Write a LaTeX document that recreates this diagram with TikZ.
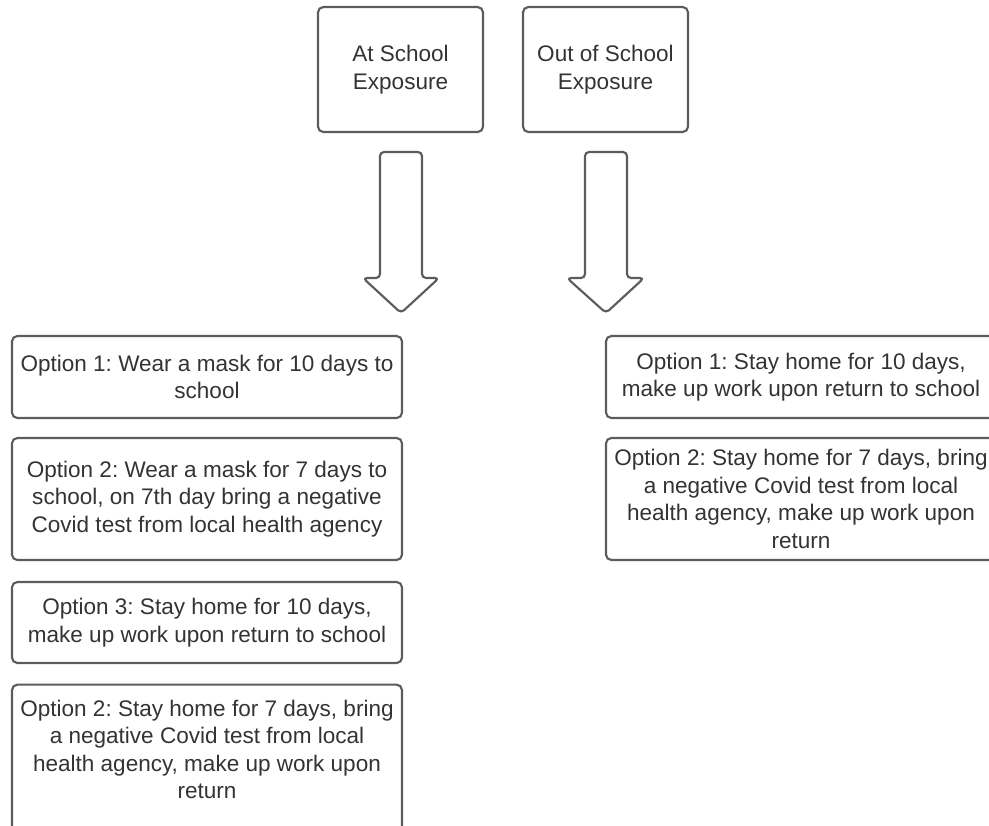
\documentclass[tikz,border=0pt]{standalone}
\usepackage{fontspec}
\setmainfont{Liberation Sans}
\frenchspacing
\definecolor{edgegray}{HTML}{5C5C5C}
\definecolor{ink}{HTML}{333333}
\begin{document}
\begin{tikzpicture}[x=0.75pt,y=-0.75pt,
  frame/.style={draw=edgegray, line width=1.6pt, rounded corners=4pt, inner sep=0pt},
  txt/.style={text=ink, align=center, font=\fontsize{16.9pt}{20.6pt}\selectfont\frenchspacing, inner sep=0pt},
  box/.style={frame, txt},
  blockarrow/.style={draw=edgegray, line width=1.6pt, rounded corners=3pt, line join=round}]
\useasboundingbox (0,0) rectangle (989,825);

% top boxes
\node[box, minimum width=123.75pt, minimum height=93.75pt] (at) at (400.5,69.5) {At School\\Exposure};
\node[box, minimum width=123.75pt, minimum height=93.75pt] (out) at (605.5,69.5) {Out of School\\Exposure};

% block arrows
\draw[blockarrow] (380,152) -- (422,152) -- (422,278) -- (439,278) -- (401,313) -- (363,278) -- (380,278) -- cycle;
\draw[blockarrow] (585,152) -- (627,152) -- (627,278) -- (644,278) -- (606,313) -- (567,278) -- (585,278) -- cycle;

% left column
\node[box, minimum width=292.5pt, minimum height=61.5pt] (L1) at (207,377)
  {Option 1: Wear a mask for 10 days to\\school};
\node[box, minimum width=292.5pt, minimum height=91.5pt] (L2) at (207,499)
  {Option 2: Wear a mask for 7 days to\\school, on 7th day bring a negative\\Covid test from local health agency};
\node[box, minimum width=292.5pt, minimum height=60.75pt] (L3) at (207,622.5)
  {Option 3: Stay home for 10 days,\\make up work upon return to school};
\node[frame, minimum width=292.5pt, minimum height=116pt] (L4) at (207,762) {};
\node[txt] (L4t) at (207,749.5)
  {Option 2: Stay home for 7 days, bring\\a negative Covid test from local\\health agency, make up work upon\\return};

% right column
\node[box, minimum width=292.5pt, minimum height=61.5pt] (R1) at (801,377)
  {Option 1: Stay home for 10 days,\\make up work upon return to school};
\node[box, minimum width=292.5pt, minimum height=91.5pt] (R2) at (801,499)
  {Option 2: Stay home for 7 days, bring\\a negative Covid test from local\\health agency, make up work upon\\return};
\end{tikzpicture}
\end{document}
